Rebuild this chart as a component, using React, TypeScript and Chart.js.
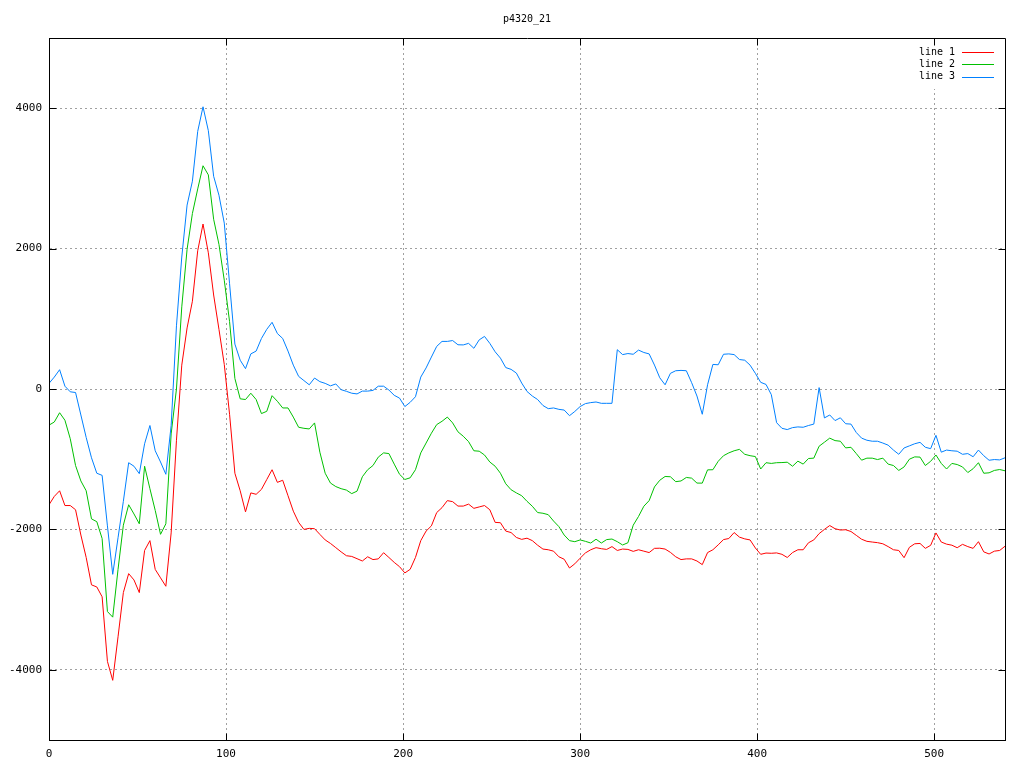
import { useEffect, useRef } from 'react';
import { Chart, registerables } from 'chart.js';

Chart.register(...registerables);

const TITLE = 'p4320_21';
const X_STEP = 3;
const X_MIN = 0;
const X_MAX = 540;
const Y_MIN = -5000;
const Y_MAX = 5000;
const X_TICKS = [0, 100, 200, 300, 400, 500];
const Y_TICKS = [-4000, -2000, 0, 2000, 4000];
const SERIES_LABELS = ['line 1', 'line 2', 'line 3'];
const SERIES_COLORS = ['#ff0000', '#00c000', '#0080ff'];

// values at x = 0, 3, 6, ..., 540
const line1 = [
  -1649, -1530, -1450, -1660, -1660, -1720, -2080, -2400, -2790, -2820,
  -2960, -3880, -4150, -3530, -2900, -2630, -2720, -2900, -2300, -2160,
  -2570, -2690, -2810, -2050, -730, 340, 870, 1250, 1970, 2350,
  1940, 1339, 850, 350, -360, -1200, -1450, -1750, -1480, -1500,
  -1430, -1290, -1150, -1330, -1300, -1520, -1740, -1900, -2000, -1985,
  -1990, -2071, -2150, -2200, -2260, -2320, -2375, -2385, -2417, -2450,
  -2390, -2430, -2420, -2332, -2400, -2470, -2531, -2620, -2569, -2400,
  -2160, -2024, -1950, -1760, -1690, -1590, -1605, -1668, -1668, -1640,
  -1700, -1680, -1660, -1720, -1900, -1905, -2024, -2045, -2115, -2142,
  -2125, -2160, -2225, -2280, -2290, -2310, -2390, -2425, -2550, -2490,
  -2410, -2335, -2290, -2260, -2275, -2285, -2245, -2300, -2280, -2285,
  -2313, -2290, -2310, -2330, -2270, -2268, -2280, -2327, -2390, -2430,
  -2420, -2420, -2450, -2502, -2330, -2290, -2220, -2145, -2130, -2045,
  -2110, -2135, -2150, -2265, -2355, -2337, -2340, -2335, -2355, -2400,
  -2330, -2290, -2290, -2190, -2150, -2060, -2000, -1945, -1990, -2009,
  -2005, -2030, -2085, -2140, -2170, -2180, -2189, -2205, -2245, -2290,
  -2300, -2403, -2255, -2205, -2200, -2270, -2227, -2050, -2180, -2210,
  -2225, -2261, -2213, -2245, -2270, -2175, -2320, -2350, -2310, -2300,
  -2240,
];

const line2 = [
  -515, -470, -338, -445, -708, -1090, -1310, -1450, -1850, -1890,
  -2130, -3170, -3250, -2570, -1940, -1649, -1780, -1920, -1100, -1420,
  -1730, -2070, -1920, -640, 0, 1170, 1990, 2500, 2850, 3180,
  3050, 2418, 2060, 1550, 960, 150, -140, -150, -60, -150,
  -350, -318, -95, -175, -270, -270, -400, -545, -560, -569,
  -483, -900, -1200, -1340, -1390, -1420, -1440, -1490, -1455, -1250,
  -1150, -1090, -970, -910, -920, -1070, -1215, -1289, -1265, -1150,
  -910, -770, -630, -507, -460, -400, -483, -610, -673, -750,
  -880, -886, -940, -1040, -1100, -1200, -1350, -1435, -1480, -1520,
  -1600, -1670, -1760, -1770, -1790, -1881, -1960, -2080, -2160, -2175,
  -2150, -2170, -2194, -2140, -2194, -2145, -2137, -2175, -2222, -2190,
  -1940, -1815, -1670, -1590, -1395, -1300, -1246, -1250, -1320, -1310,
  -1260, -1270, -1340, -1341, -1152, -1150, -1030, -950, -910, -880,
  -860, -930, -950, -962, -1140, -1050, -1060, -1050, -1048, -1043,
  -1100, -1028, -1070, -990, -985, -815, -758, -700, -735, -744,
  -839, -830, -920, -1014, -985, -985, -1005, -985, -1070, -1090,
  -1160, -1110, -1000, -967, -970, -1090, -1030, -940, -1060, -1140,
  -1060, -1076, -1110, -1190, -1135, -1050, -1200, -1194, -1160, -1147,
  -1165,
];

const line3 = [
  80, 170, 275, 40, -40, -50, -370, -690, -980, -1200,
  -1230, -1950, -2640, -2119, -1600, -1050, -1100, -1206, -780, -520,
  -880, -1040, -1215, -520, 900, 1880, 2620, 2960, 3670, 4020,
  3680, 3030, 2760, 2363, 1500, 640, 410, 290, 500, 540,
  720, 850, 950, 790, 720, 540, 340, 180, 120, 60,
  156, 105, 80, 45, 72, -10, -33, -60, -70, -30,
  -30, -20, 40, 40, -15, -90, -130, -250, -190, -110,
  170, 300, 455, 607, 678, 678, 690, 630, 628, 650,
  580, 700, 749, 650, 530, 440, 305, 280, 227, 85,
  -35, -100, -150, -235, -280, -270, -290, -300, -380, -320,
  -250, -208, -194, -185, -204, -204, -204, 560, 490, 505,
  495, 554, 520, 500, 341, 160, 60, 223, 260, 265,
  260, 90, -100, -360, 60, 350, 345, 495, 500, 490,
  420, 410, 340, 223, 95, 65, -80, -480, -560, -578,
  -550, -540, -545, -520, -500, 20, -412, -370, -450, -410,
  -495, -500, -620, -700, -730, -744, -744, -770, -800, -870,
  -930, -840, -810, -780, -760, -830, -850, -660, -900, -870,
  -880, -886, -930, -920, -965, -870, -950, -1015, -1005, -1010,
  -980,
];

const SERIES = [line1, line2, line3];
const FONT = '"DejaVu Sans Mono", "Liberation Mono", monospace';

const toPoints = (vals: number[]) => vals.map((y, i) => ({ x: X_MIN + i * X_STEP, y }));

const px = (v: number) => Math.round(v) + 0.5;

const gnuplotFrame = {
  id: 'gnuplotFrame',
  beforeDatasetsDraw(chart: any) {
    const { ctx, chartArea } = chart;
    // the key area is cleared of grid lines, like gnuplot does
    ctx.save();
    ctx.fillStyle = '#ffffff';
    ctx.fillRect(chartArea.right - 94, chartArea.top + 1, 93, 50);
    ctx.restore();
  },
  afterDraw(chart: any) {
    const { ctx, chartArea } = chart;
    const { left, right, top, bottom } = chartArea;
    const xs = chart.scales.x;
    const ys = chart.scales.y;
    const TL = 7;
    ctx.save();
    ctx.strokeStyle = '#000000';
    ctx.lineWidth = 1;
    ctx.setLineDash([]);
    ctx.beginPath();
    ctx.rect(px(left), px(top), Math.round(right) - Math.round(left), Math.round(bottom) - Math.round(top));
    for (const v of X_TICKS) {
      const x = px(xs.getPixelForValue(v));
      ctx.moveTo(x, px(bottom));
      ctx.lineTo(x, px(bottom) - TL);
      ctx.moveTo(x, px(top));
      ctx.lineTo(x, px(top) + TL);
    }
    for (const v of Y_TICKS) {
      const y = px(ys.getPixelForValue(v));
      ctx.moveTo(px(left), y);
      ctx.lineTo(px(left) + TL, y);
      ctx.moveTo(px(right), y);
      ctx.lineTo(px(right) - TL, y);
    }
    ctx.stroke();

    // title
    ctx.fillStyle = '#000000';
    ctx.font = `10px ${FONT}`;
    ctx.textAlign = 'center';
    ctx.textBaseline = 'middle';
    ctx.fillText(TITLE, (left + right) / 2, 19);

    // key
    SERIES_LABELS.forEach((label, i) => {
      const y = top + 14 + i * 12.3;
      ctx.textAlign = 'right';
      ctx.fillStyle = '#000000';
      ctx.fillText(label, right - 50, y);
      ctx.strokeStyle = SERIES_COLORS[i];
      ctx.beginPath();
      ctx.moveTo(right - 43, px(y));
      ctx.lineTo(right - 11, px(y));
      ctx.stroke();
    });
    ctx.restore();
  },
};

export default function App() {
  const canvasRef = useRef<HTMLCanvasElement | null>(null);

  useEffect(() => {
    const canvas = canvasRef.current;
    if (!canvas) return;
    const gridColor = '#a0a0a0';
    const tickFont = { family: FONT, size: 11 };
    const chart = new Chart(canvas, {
      type: 'line',
      data: {
        datasets: SERIES.map((vals, i) => ({
          label: SERIES_LABELS[i],
          data: toPoints(vals),
          borderColor: SERIES_COLORS[i],
          backgroundColor: SERIES_COLORS[i],
          borderWidth: 1,
          pointRadius: 0,
          tension: 0,
          fill: false,
          order: 3 - i,
        })),
      },
      options: {
        responsive: false,
        animation: false,
        devicePixelRatio: 1,
        events: [],
        layout: { padding: { left: 0, right: 19, top: 38, bottom: 0 } },
        plugins: {
          legend: { display: false },
          title: { display: false },
          tooltip: { enabled: false },
        },
        scales: {
          x: {
            type: 'linear',
            min: X_MIN,
            max: X_MAX,
            afterBuildTicks: (s: any) => {
              s.ticks = X_TICKS.map((v) => ({ value: v }));
            },
            afterFit: (s: any) => {
              s.height = 28;
            },
            grid: { color: gridColor, lineWidth: 1, drawTicks: false },
            border: { display: true, color: '#000000', width: 1, dash: [2, 3] },
            ticks: {
              color: '#000000',
              font: tickFont,
              padding: 8,
              maxRotation: 0,
              autoSkip: false,
              callback: (v: any) => String(v),
            },
          },
          y: {
            type: 'linear',
            min: Y_MIN,
            max: Y_MAX,
            afterBuildTicks: (s: any) => {
              s.ticks = Y_TICKS.map((v) => ({ value: v }));
            },
            afterFit: (s: any) => {
              s.width = 49;
            },
            grid: { color: gridColor, lineWidth: 1, drawTicks: false },
            border: { display: true, color: '#000000', width: 1, dash: [2, 3] },
            ticks: {
              color: '#000000',
              font: tickFont,
              padding: 7,
              autoSkip: false,
              callback: (v: any) => String(v),
            },
          },
        },
      },
      plugins: [gnuplotFrame],
    } as any);
    return () => chart.destroy();
  }, []);

  return (
    <div style={{ position: 'fixed', left: 0, top: 0, width: 1024, height: 768, background: '#ffffff' }}>
      <canvas ref={canvasRef} width={1024} height={768} style={{ display: 'block' }} />
    </div>
  );
}
